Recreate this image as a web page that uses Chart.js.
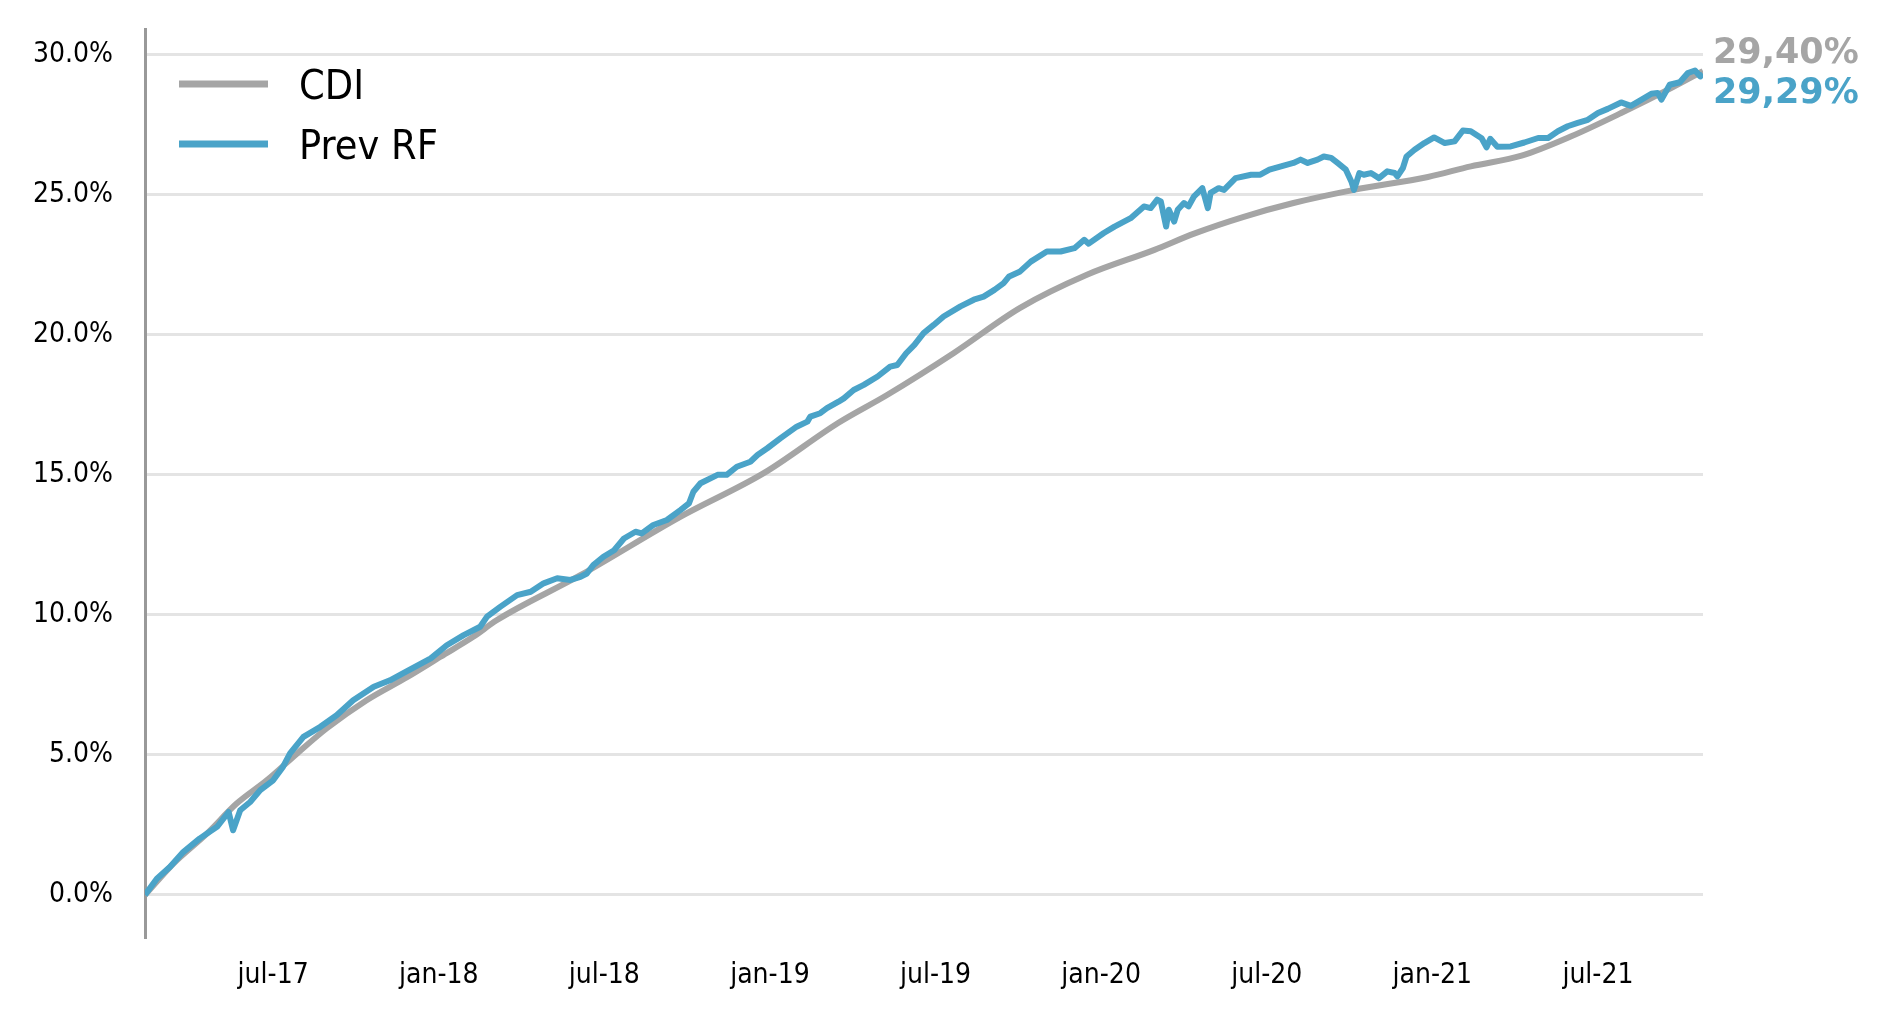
<!DOCTYPE html>
<html>
<head>
<meta charset="utf-8">
<script src="https://cdn.jsdelivr.net/npm/chart.js@4.4.1/dist/chart.umd.min.js"></script>
<style>
  html, body { margin: 0; padding: 0; background: #fff; }
  #wrap { width: 1893px; height: 1023px; position: relative; }
</style>
</head>
<body>
<div id="wrap"><canvas id="chart"></canvas></div>
<script>
// accumulated return, %
const cdiDates = [
  '2017-02-11', '2017-03-13', '2017-04-19', '2017-05-22', '2017-06-24', '2017-07-28', '2017-08-30',
  '2017-10-13', '2017-11-27', '2018-01-03', '2018-02-08', '2018-03-04', '2018-06-05', '2018-09-24',
  '2018-12-25', '2019-03-16', '2019-05-09', '2019-07-22', '2019-10-03', '2019-12-16', '2020-02-28',
  '2020-04-12', '2020-06-06', '2020-07-31', '2020-10-06', '2020-12-27', '2021-02-12', '2021-04-08',
  '2021-06-02', '2021-07-27', '2021-09-21', '2021-10-26'
];
const cdiValues = [
  0.0, 1.12, 2.19, 3.26, 4.09, 5.05, 5.94,
  6.95, 7.78, 8.5, 9.21, 9.8, 11.41, 13.5,
  15.05, 16.85, 17.85, 19.35, 20.95, 22.13, 23.02,
  23.6, 24.2, 24.69, 25.16, 25.62, 26.0, 26.38,
  27.07, 27.9, 28.8, 29.40
];

const prevDates = [
  '2017-02-11', '2017-02-23', '2017-03-09', '2017-03-24', '2017-04-11', '2017-04-30', '2017-05-13', '2017-05-18',
  '2017-05-26', '2017-06-06', '2017-06-17', '2017-07-01', '2017-07-12', '2017-07-20', '2017-08-04', '2017-08-23',
  '2017-09-10', '2017-09-28', '2017-10-21', '2017-11-08', '2017-11-27', '2017-12-23', '2018-01-10', '2018-01-29',
  '2018-02-15', '2018-02-22', '2018-03-08', '2018-03-27', '2018-04-11', '2018-04-25', '2018-05-10', '2018-05-25',
  '2018-06-05', '2018-06-12', '2018-06-19', '2018-06-30', '2018-07-12', '2018-07-23', '2018-08-05', '2018-08-12',
  '2018-08-25', '2018-09-09', '2018-09-24', '2018-10-03', '2018-10-08', '2018-10-16', '2018-11-04', '2018-11-14',
  '2018-11-25', '2018-12-10', '2018-12-18', '2018-12-29', '2019-01-13', '2019-01-31', '2019-02-11', '2019-02-14',
  '2019-02-24', '2019-03-03', '2019-03-16', '2019-03-22', '2019-04-02', '2019-04-13', '2019-04-28', '2019-05-12',
  '2019-05-20', '2019-05-30', '2019-06-08', '2019-06-18', '2019-06-29', '2019-07-10', '2019-07-29', '2019-08-13',
  '2019-08-24', '2019-09-05', '2019-09-15', '2019-09-21', '2019-10-03', '2019-10-15', '2019-11-02', '2019-11-17',
  '2019-12-02', '2019-12-13', '2019-12-18', '2020-01-04', '2020-01-16', '2020-02-03', '2020-02-17', '2020-02-24',
  '2020-03-02', '2020-03-06', '2020-03-12', '2020-03-15', '2020-03-21', '2020-03-25', '2020-04-01', '2020-04-06',
  '2020-04-12', '2020-04-21', '2020-04-27', '2020-04-30', '2020-05-09', '2020-05-15', '2020-05-28', '2020-06-14',
  '2020-06-24', '2020-07-04', '2020-07-17', '2020-07-31', '2020-08-08', '2020-08-16', '2020-08-27', '2020-09-03',
  '2020-09-11', '2020-09-18', '2020-09-27', '2020-10-03', '2020-10-06', '2020-10-12', '2020-10-17', '2020-10-25',
  '2020-11-03', '2020-11-12', '2020-11-20', '2020-11-23', '2020-11-29', '2020-12-03', '2020-12-12', '2020-12-23',
  '2021-01-03', '2021-01-15', '2021-01-26', '2021-02-04', '2021-02-12', '2021-02-23', '2021-02-28', '2021-03-04',
  '2021-03-12', '2021-03-27', '2021-04-11', '2021-04-26', '2021-05-07', '2021-05-18', '2021-05-29', '2021-06-09',
  '2021-06-20', '2021-07-01', '2021-07-12', '2021-07-27', '2021-08-07', '2021-08-19', '2021-08-30', '2021-09-06',
  '2021-09-10', '2021-09-19', '2021-09-30', '2021-10-09', '2021-10-17', '2021-10-23', '2021-10-26'
];
const prevValues = [
  0.0, 0.58, 1.0, 1.53, 2.01, 2.43, 2.96, 2.31,
  3.02, 3.32, 3.74, 4.09, 4.57, 5.05, 5.64, 6.0,
  6.41, 6.95, 7.43, 7.66, 8.0, 8.44, 8.91, 9.27,
  9.57, 9.93, 10.28, 10.7, 10.82, 11.12, 11.3, 11.24,
  11.35, 11.47, 11.77, 12.07, 12.3, 12.72, 12.96, 12.9,
  13.2, 13.38, 13.74, 13.97, 14.39, 14.69, 14.99, 14.99,
  15.28, 15.46, 15.7, 15.94, 16.3, 16.71, 16.89, 17.07,
  17.19, 17.37, 17.6, 17.72, 18.02, 18.2, 18.5, 18.85,
  18.91, 19.33, 19.63, 20.05, 20.34, 20.64, 21.0, 21.24,
  21.35, 21.59, 21.83, 22.07, 22.25, 22.6, 22.96, 22.96,
  23.08, 23.38, 23.24, 23.62, 23.85, 24.15, 24.57, 24.51,
  24.81, 24.75, 23.85, 24.45, 24.03, 24.45, 24.69, 24.57,
  24.93, 25.22, 24.51, 25.05, 25.22, 25.16, 25.58, 25.7,
  25.7, 25.88, 26.0, 26.12, 26.24, 26.12, 26.24, 26.35,
  26.3, 26.12, 25.88, 25.46, 25.16, 25.76, 25.7, 25.76,
  25.58, 25.82, 25.76, 25.64, 25.94, 26.35, 26.59, 26.83,
  27.03, 26.83, 26.89, 27.28, 27.25, 27.0, 26.68, 26.98,
  26.7, 26.71, 26.85, 27.01, 27.01, 27.25, 27.43, 27.55,
  27.66, 27.9, 28.05, 28.28, 28.16, 28.38, 28.59, 28.62,
  28.38, 28.91, 29.0, 29.33, 29.42, 29.21, 29.29
];

const xTickDates = ['2017-07-01', '2018-01-01', '2018-07-01', '2019-01-01', '2019-07-01',
                    '2020-01-01', '2020-07-01', '2021-01-01', '2021-07-01'];
const xTickLabels = ['jul-17', 'jan-18', 'jul-18', 'jan-19', 'jul-19', 'jan-20', 'jul-20', 'jan-21', 'jul-21'];
const yTicks = [0, 5, 10, 15, 20, 25, 30];

// date string -> months since jan 2017
function toMonths(s) {
  const [y, m, d] = s.split('-').map(Number);
  const dim = new Date(y, m, 0).getDate();
  return (y - 2017) * 12 + (m - 1) + (d - 1) / dim;
}

const toPoints = (dates, vals) => dates.map((d, i) => ({ x: toMonths(d), y: vals[i] }));

const FONT = '"DejaVu Sans Condensed", "DejaVu Sans", sans-serif';
const BOLD_FONT = '"DejaVu Sans", sans-serif';

const legendBox = {
  id: 'legendBox',
  afterDraw(chart) {
    const { ctx, chartArea } = chart;
    ctx.save();
    ctx.font = '41px ' + FONT;
    ctx.textBaseline = 'alphabetic';
    chart.data.datasets.forEach((ds, i) => {
      const y = chartArea.top + 55 + i * 60;
      ctx.strokeStyle = ds.borderColor;
      ctx.lineWidth = 7;
      ctx.beginPath();
      ctx.moveTo(chartArea.left + 34, y);
      ctx.lineTo(chartArea.left + 123, y);
      ctx.stroke();
      ctx.fillStyle = '#000';
      ctx.fillText(ds.label, chartArea.left + 154, y + 15);
    });
    ctx.restore();
  }
};

const endLabels = {
  id: 'endLabels',
  afterDatasetsDraw(chart) {
    const { ctx, chartArea } = chart;
    ctx.save();
    ctx.font = 'bold 35px ' + BOLD_FONT;
    ctx.textBaseline = 'alphabetic';
    chart.data.datasets.forEach((ds, i) => {
      const pts = chart.getDatasetMeta(i).data;
      const last = pts[pts.length - 1];
      const v = ds.data[ds.data.length - 1].y;
      ctx.fillStyle = ds.borderColor;
      ctx.fillText(v.toFixed(2).replace('.', ',') + '%', chartArea.right + 10, last.y + ds.labelShift);
    });
    ctx.restore();
  }
};

const cdiPts = toPoints(cdiDates, cdiValues);
const prevPts = toPoints(prevDates, prevValues);

new Chart(document.getElementById('chart'), {
  type: 'line',
  data: {
    datasets: [
      {
        label: 'CDI',
        data: cdiPts,
        borderColor: '#A5A5A5',
        borderWidth: 6,
        pointRadius: 0,
        cubicInterpolationMode: 'monotone',
        order: 2,
        labelShift: -8
      },
      {
        label: 'Prev RF',
        data: prevPts,
        borderColor: '#4AA3C8',
        borderWidth: 6,
        pointRadius: 0,
        tension: 0,
        borderJoinStyle: 'round',
        order: 1,
        labelShift: 29
      }
    ]
  },
  options: {
    responsive: true,
    maintainAspectRatio: false,
    animation: false,
    layout: { padding: { top: 29, right: 190, left: 0, bottom: 0 } },
    plugins: {
      legend: { display: false },
      tooltip: { enabled: false }
    },
    scales: {
      x: {
        type: 'linear',
        min: toMonths(prevDates[0]),
        max: toMonths(prevDates[prevDates.length - 1]),
        afterBuildTicks: s => { s.ticks = xTickDates.map(d => ({ value: toMonths(d) })); },
        afterFit: s => { s.height = 86; s.paddingLeft = 0; s.paddingRight = 0; },
        grid: { display: false },
        border: { display: false },
        ticks: {
          callback: (v, i) => xTickLabels[i],
          font: { family: FONT, size: 28 },
          color: '#000',
          padding: 14,
          maxRotation: 0,
          autoSkip: false
        }
      },
      y: {
        min: -1.5,
        max: 30.9,
        afterBuildTicks: s => { s.ticks = yTicks.map(v => ({ value: v })); },
        afterFit: s => { s.width = 145; s.paddingTop = 0; s.paddingBottom = 0; },
        grid: { color: '#E4E4E4', lineWidth: 3, drawTicks: false },
        border: { display: true, color: '#999999', width: 3 },
        ticks: {
          callback: v => v.toFixed(1) + '%',
          font: { family: FONT, size: 28 },
          color: '#000',
          padding: 32
        }
      }
    }
  },
  plugins: [legendBox, endLabels]
});
</script>
</body>
</html>
